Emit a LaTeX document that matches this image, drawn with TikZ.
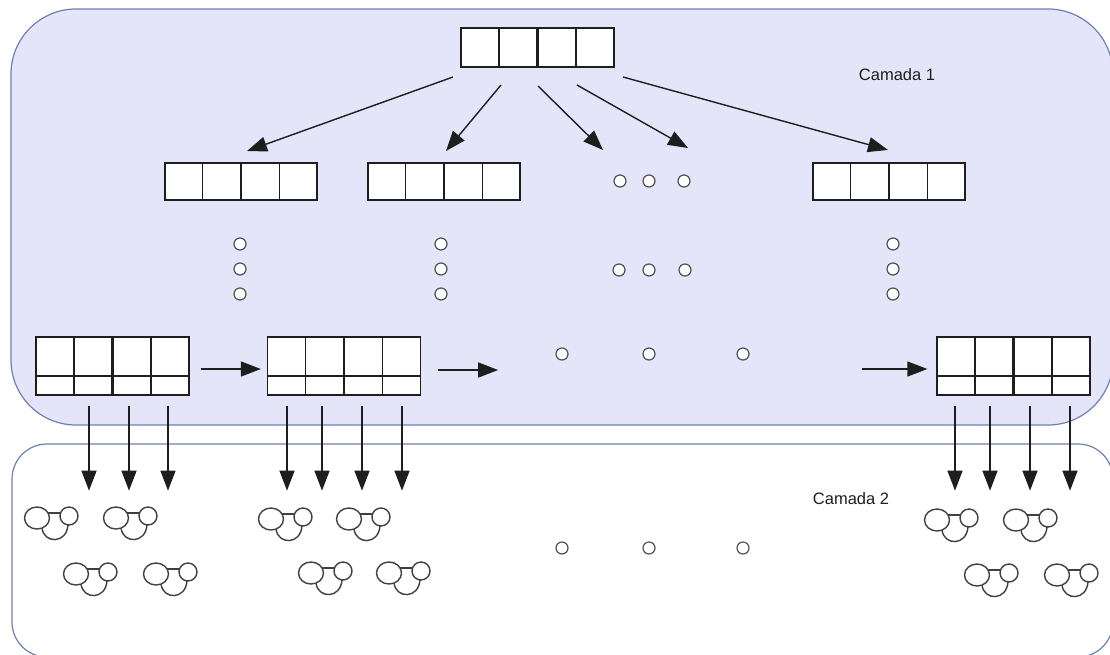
\documentclass[tikz,border=0pt]{standalone}
\usepackage{fontspec}
\setmainfont{Liberation Sans}
\usetikzlibrary{arrows.meta,calc}
\definecolor{layerfill}{RGB}{229,229,250}
\definecolor{layeredge}{RGB}{108,128,180}
\definecolor{ink}{RGB}{30,30,30}
\definecolor{dotedge}{RGB}{80,80,80}

% four equal cells inside a box node, middle divider drawn with its own width
\newcommand\cellsplit[2]{%
  \foreach \f in {0.25,0.75}
    \draw[boxline] ($(#1.north west)!\f!(#1.north east)$) -- ($(#1.south west)!\f!(#1.south east)$);
  \draw[boxline, line width=#2] ($(#1.north west)!0.5!(#1.north east)$) -- ($(#1.south west)!0.5!(#1.south east)$);
}
% leaf page: thick horizontal divider between keys and pointers
\newcommand\leafsplit[1]{%
  \cellsplit{#1}{2.4pt}
  \draw[boxline, line width=2.4pt] ($(#1.north west)!0.672!(#1.south west)$) -- ($(#1.north east)!0.672!(#1.south east)$);
}

\begin{document}
\begin{tikzpicture}[x=1pt,y=-1pt,
  layer/.style={draw=layeredge, line width=1.2pt},
  cellbox/.style={rectangle, draw=ink, fill=white, line width=1.3pt, inner sep=0pt},
  boxline/.style={draw=ink, line width=1.3pt},
  arr/.style={draw=ink, line width=1.4pt, -{Triangle[length=20pt,width=15pt]}},
  dot/.style={circle, draw=dotedge, fill=white, line width=1.2pt, minimum size=12pt, inner sep=0pt},
  lbl/.style={font=\fontsize{16.5}{18}\selectfont, text=ink, inner sep=0pt},
  glyph/.style={draw=ink!85, line width=1.4pt},
  graphglyph/.pic={
    \draw[glyph] (0,0) circle[x radius=12.5pt, y radius=11pt];
    \draw[glyph] (32,-2) circle[radius=9pt];
    \draw[glyph] (11,-5) -- (23.5,-5);
    \draw[glyph] (5,10) .. controls (7,26) and (30,26) .. (31,6.5);
  }
]
\useasboundingbox (0,0) rectangle (1110,654);

% the two layers
\draw[layer, fill=layerfill, rounded corners=65pt] (11,9) rectangle (1113,425);
\draw[layer, fill=white, rounded corners=35pt] (12,444) rectangle (1113,657);
\node[lbl] (cam1) at (897,75) {Camada 1};
\node[lbl] (cam2) at (851,499) {Camada 2};

% root page
\node[cellbox, minimum width=153pt, minimum height=39pt] (root) at (537.5,47.5) {};
\cellsplit{root}{2.4pt}

% second level pages
\foreach \n/\x in {n1/241, n2/444, n4/889} {
  \node[cellbox, minimum width=152pt, minimum height=37pt] (\n) at (\x,181.5) {};
  \cellsplit{\n}{1.3pt}
}
\node[dot] (h1) at (620,181) {};
\node[dot] (h2) at (649,181) {};
\node[dot] (h3) at (684,181) {};

% vertical ellipses below each branch
\foreach \c/\x in {a/240, b/441, c/893} {
  \node[dot] (v\c1) at (\x,244) {};
  \node[dot] (v\c2) at (\x,269) {};
  \node[dot] (v\c3) at (\x,294) {};
}
\node[dot] (m1) at (619,270) {};
\node[dot] (m2) at (649,270) {};
\node[dot] (m3) at (685,270) {};

% leaf pages
\foreach \n/\x in {leafA/112.5, leafB/344, leafC/1013.5} {
  \node[cellbox, minimum width=153pt, minimum height=58pt] (\n) at (\x,366) {};
  \leafsplit{\n}
}
\node[dot] (l1) at (562,354) {};
\node[dot] (l2) at (649,354) {};
\node[dot] (l3) at (743,354) {};

% root to children
\coordinate (s1) at (453,77);  \coordinate (t1) at (247,151);
\coordinate (s2) at (501,85);  \coordinate (t2) at (446,151);
\coordinate (s3) at (538,86);  \coordinate (t3) at (603,150);
\coordinate (s4) at (577,85);  \coordinate (t4) at (688,148);
\coordinate (s5) at (623,77);  \coordinate (t5) at (888,150);
\foreach \i in {1,...,5} \draw[arr] (s\i) -- (t\i);

% sibling links between leaves
\draw[arr] ([xshift=11pt, yshift=-3pt]leafA.east) -- ([xshift=-6pt, yshift=-3pt]leafB.west);
\draw[arr] ([xshift=17pt, yshift=-4pt]leafB.east) -- ++(60,0);
\coordinate (lc) at (862,369);
\draw[arr] (lc) -- ([xshift=-9pt, yshift=-3pt]leafC.west);

% pointers from leaves down to the data layer
\foreach \d in {-23.5, 16.5, 55.5}
  \draw[arr] ([xshift=\d pt, yshift=-10pt]leafA.south) -- ++(0,85);
\foreach \d in {-57, -22, 18, 58}
  \draw[arr] ([xshift=\d pt, yshift=-10pt]leafB.south) -- ++(0,85);
\foreach \d in {-58.5, -23.5, 16.5, 56.5}
  \draw[arr] ([xshift=\d pt, yshift=-10pt]leafC.south) -- ++(0,85);

% records in the data layer
\foreach \x/\y in {37/518, 116/518, 76/574, 156/574,
                   271/519, 349/519, 311/573, 389/573,
                   937/520, 1016/520, 977/575, 1057/575}
  \pic at (\x,\y) {graphglyph};
\node[dot] (b1) at (562,548) {};
\node[dot] (b2) at (649,548) {};
\node[dot] (b3) at (743,548) {};
\end{tikzpicture}
\end{document}
